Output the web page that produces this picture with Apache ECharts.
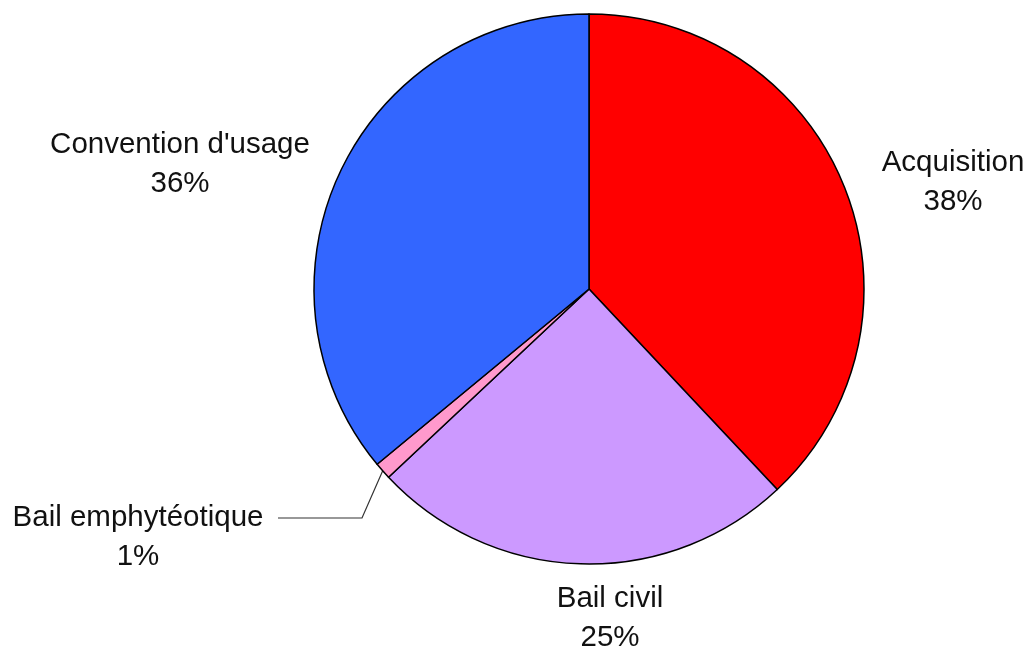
<!DOCTYPE html>
<html>
<head>
<meta charset="utf-8">
<script src="https://cdn.jsdelivr.net/npm/echarts@6/dist/echarts.min.js"></script>
<style>html,body{margin:0;padding:0;background:#fff;}#c{width:1028px;height:648px;}</style>
</head>
<body>
<div id="c"></div>
<script>
const categories = ["Acquisition", "Bail civil", "Bail emphytéotique", "Convention d'usage"];
const values = [38, 25, 1, 36];
const colors = ["#FF0000", "#CC99FF", "#FF99CC", "#3366FF"];
// label anchor (centre of the two-line block) for each slice
const labelAnchors = [[953, 182], [610, 618], [138, 537], [180, 164]];
const leaderBend = [362, 518];
const leaderEnd = [278, 518];

const chart = echarts.init(document.getElementById('c'));
chart.setOption({
  animation: false,
  backgroundColor: '#fff',
  series: [{
    type: 'pie',
    center: [589, 289],
    radius: 275,
    startAngle: 90,
    clockwise: true,
    avoidLabelOverlap: false,
    itemStyle: { borderColor: '#000', borderWidth: 1.5 },
    label: {
      show: true,
      position: 'outside',
      formatter: '{b}\n{d}%',
      fontFamily: 'Liberation Sans, Arial, sans-serif',
      fontSize: 29.5,
      lineHeight: 39,
      color: '#111'
    },
    labelLine: { show: false, lineStyle: { color: '#333', width: 1.2 } },
    emphasis: { disabled: true },
    labelLayout: function (p) {
      const a = labelAnchors[p.dataIndex];
      const r = { x: a[0], y: a[1], align: 'center', verticalAlign: 'middle' };
      if (p.dataIndex === 2 && p.labelLinePoints) {
        r.labelLinePoints = [p.labelLinePoints[0], leaderBend, leaderEnd];
      }
      return r;
    },
    data: categories.map((c, i) => ({
      name: c,
      value: values[i],
      itemStyle: { color: colors[i] },
      labelLine: { show: i === 2 }
    }))
  }]
});
</script>
</body>
</html>
